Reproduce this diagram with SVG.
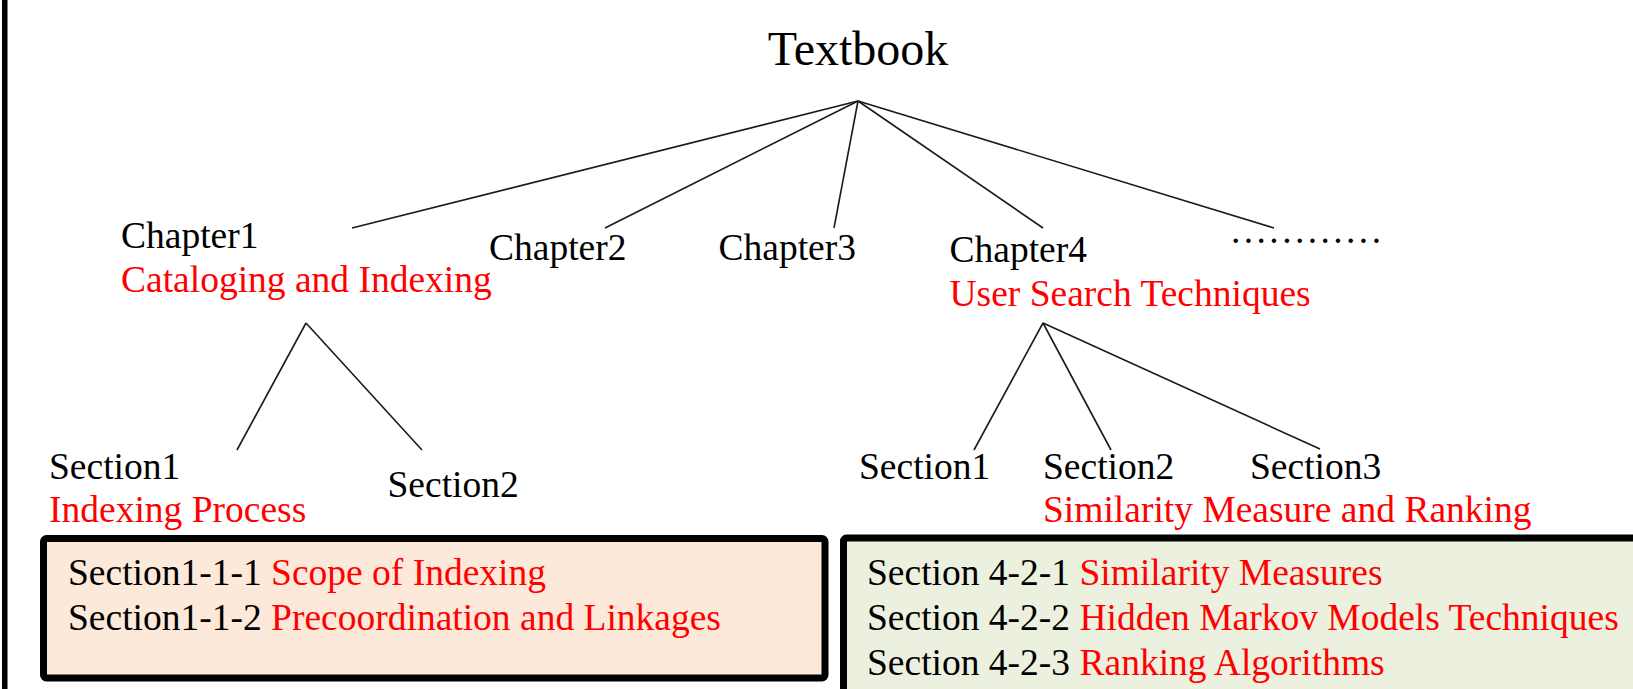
<svg xmlns="http://www.w3.org/2000/svg" width="1633" height="689" viewBox="0 0 1633 689">
<style>
text{font-family:"Liberation Serif","Times New Roman",serif;font-size:37.5px;fill:#000}
.r{fill:#FF0000}
.t{font-size:48px}
.edge{stroke:#1a1a1a;stroke-width:1.6;fill:none}
.box{stroke:#000;stroke-width:7}
</style>
<rect width="1633" height="689" fill="#fff"/>
<rect x="2" y="0" width="5.5" height="689" fill="#000"/>
<g id="connectors">
<line class="edge" x1="858" y1="101" x2="352" y2="228"/>
<line class="edge" x1="858" y1="101" x2="605" y2="228"/>
<line class="edge" x1="858" y1="101" x2="834" y2="228"/>
<line class="edge" x1="858" y1="101" x2="1043" y2="228"/>
<line class="edge" x1="858" y1="101" x2="1274" y2="228"/>
<line class="edge" x1="306" y1="323" x2="237" y2="450"/>
<line class="edge" x1="306" y1="323" x2="422" y2="450"/>
<line class="edge" x1="1043" y1="323" x2="974" y2="450"/>
<line class="edge" x1="1043" y1="323" x2="1111" y2="450"/>
<line class="edge" x1="1043" y1="323" x2="1320" y2="449"/>
</g>
<g id="textbook"><text class="t" x="858" y="64.5" text-anchor="middle">Textbook</text></g>
<g id="chapter1"><text x="121" y="247.5">Chapter1</text><text class="r" x="121" y="292">Cataloging and Indexing</text></g>
<g id="chapter2"><text x="489" y="260">Chapter2</text></g>
<g id="chapter3"><text x="718.5" y="260">Chapter3</text></g>
<g id="chapter4"><text x="949.5" y="262">Chapter4</text><text class="r" x="949.5" y="306">User Search Techniques</text></g>
<g id="more"><text x="1231" y="243" textLength="150" lengthAdjust="spacing">............</text></g>
<g id="ch1-section1"><text x="49" y="478.5">Section1</text><text class="r" x="49" y="521.5">Indexing Process</text></g>
<g id="ch1-section2"><text x="387.5" y="496.5">Section2</text></g>
<g id="ch4-section1"><text x="859" y="478.5">Section1</text></g>
<g id="ch4-section2"><text x="1043" y="478.5">Section2</text></g>
<g id="ch4-section3"><text x="1250" y="478.5">Section3</text><text class="r" x="1043" y="521.5">Similarity Measure and Ranking</text></g>
<g id="box1">
<rect class="box" x="43.5" y="538.5" width="781.5" height="139.5" rx="3" fill="#FDE9D9"/>
<text x="68" y="585">Section1-1-1 <tspan class="r">Scope of Indexing</tspan></text>
<text x="68" y="630">Section1-1-2 <tspan class="r">Precoordination and Linkages</tspan></text>
</g>
<g id="box2">
<rect class="box" x="843.5" y="538" width="900" height="300" rx="3" fill="#EBF1DE"/>
<text x="867" y="585">Section 4-2-1 <tspan class="r">Similarity Measures</tspan></text>
<text x="867" y="630">Section 4-2-2 <tspan class="r">Hidden Markov Models Techniques</tspan></text>
<text x="867" y="675">Section 4-2-3 <tspan class="r">Ranking Algorithms</tspan></text>
</g>
</svg>
